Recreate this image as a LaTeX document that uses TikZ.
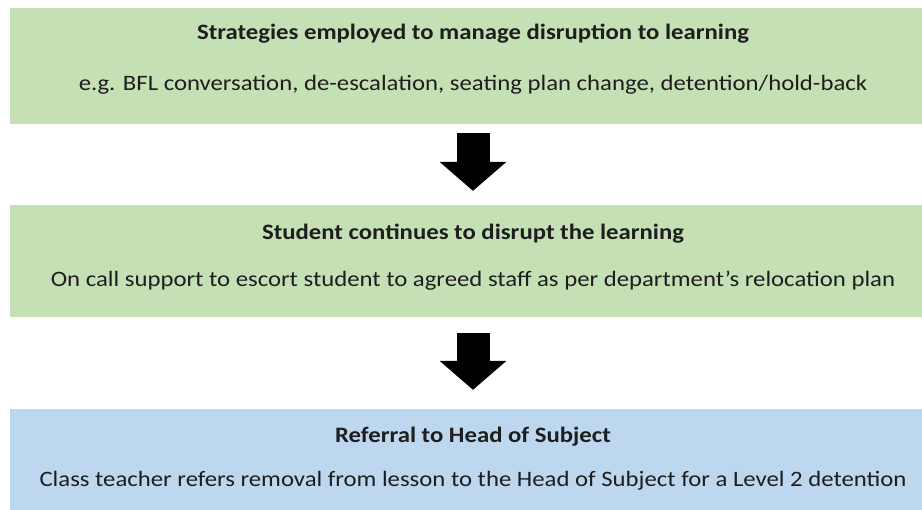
\documentclass[tikz,border=0pt]{standalone}
\usepackage{fontspec}
\setmainfont{Carlito}[FakeStretch=1.125]
\usetikzlibrary{arrows.meta}
\definecolor{stagegreen}{HTML}{C5E0B4}
\definecolor{stageblue}{HTML}{BDD7EE}
\definecolor{inktext}{HTML}{1E1E1E}
\tikzset{
  stagebox/.style={rectangle, inner sep=0pt, minimum width=926pt},
  heading/.style={anchor=base, text=inktext, font=\fontsize{22}{26}\selectfont\bfseries},
  detail/.style={anchor=base, text=inktext, font=\fontsize{22}{26}\selectfont},
  blockarrow/.style={black, line width=33pt, -{Triangle[length=29pt,width=67pt,line width=0pt]}}
}

\begin{document}
\begin{tikzpicture}[x=1pt,y=-1pt]
\useasboundingbox (0,0) rectangle (922,510);
\clip (0,0) rectangle (922,510);
% the three stages
\node[stagebox, fill=stagegreen, minimum height=116pt] (strategies) at (473,66) {};
\node[stagebox, fill=stagegreen, minimum height=112pt] (disrupt) at (473,261) {};
\node[stagebox, fill=stageblue, minimum height=116pt] (referral) at (473,467) {};
\node[heading] (strategiesT) at (473,40) {Strategies employed to manage disruption to learning};
\node[detail] (strategiesD) at (473,91) {e.g. BFL conversation, de-escalation, seating plan change, detention/hold-back};
\node[heading] (disruptT) at (473,240) {Student continues to disrupt the learning};
\node[detail] (disruptD) at (473,287) {On call support to escort student to agreed staff as per department’s relocation plan};
\node[heading] (referralT) at (473,443) {Referral to Head of Subject};
\node[detail] (referralD) at (473,487) {Class teacher refers removal from lesson to the Head of Subject for a Level 2 detention};
% arrows between stages
\draw[blockarrow] ([yshift=-9pt]strategies.south) -- ([yshift=14pt]disrupt.north);
\draw[blockarrow] ([yshift=-16pt]disrupt.south) -- ([yshift=19pt]referral.north);
\end{tikzpicture}
\end{document}
